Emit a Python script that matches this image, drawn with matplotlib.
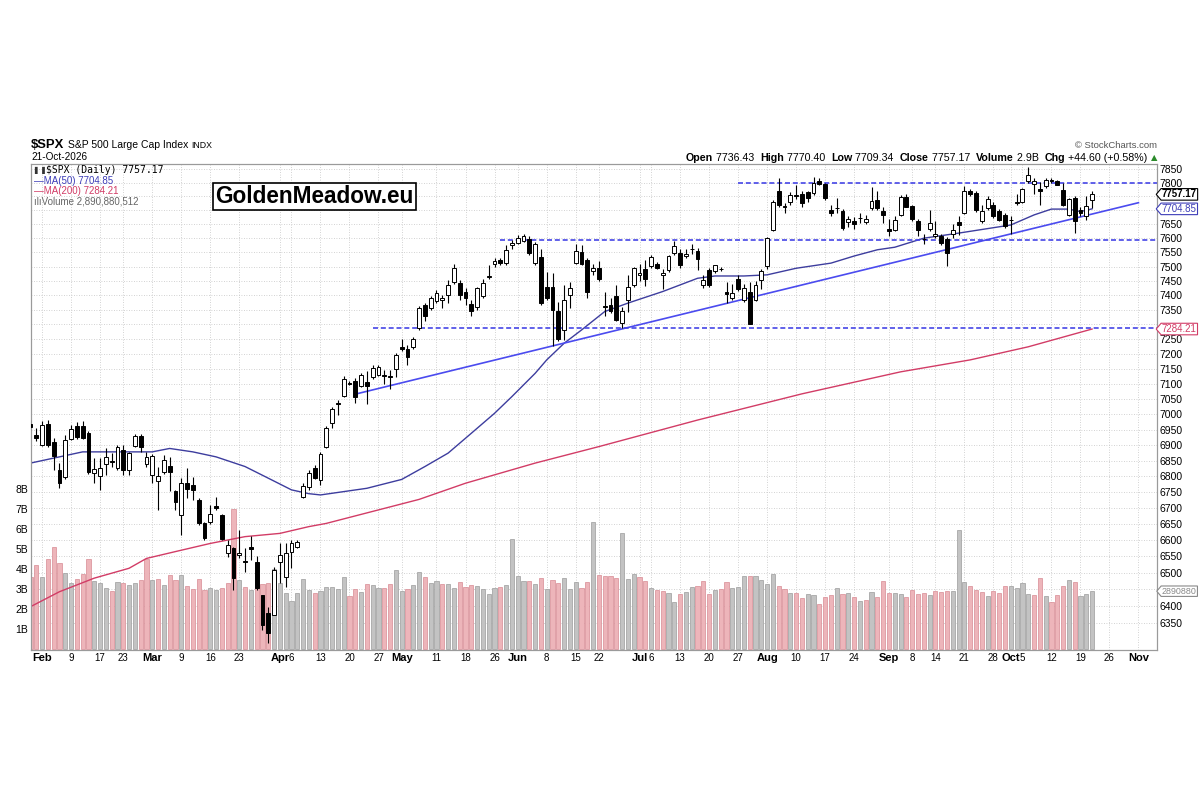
import matplotlib
matplotlib.use("Agg")
import matplotlib.pyplot as plt
import matplotlib.ticker as mticker
import matplotlib.transforms as mtransforms
from matplotlib.path import Path
import numpy as np
import pandas as pd

plt.rcParams["font.family"] = ["Liberation Sans", "DejaVu Sans"]

# ------------------------------------------------------------
# Daily data (first candle = 29-Jan-2026)
# ------------------------------------------------------------
first_day = "2026-01-29"
holidays = ["2026-02-16", "2026-04-03", "2026-05-25", "2026-06-19", "2026-07-03", "2026-09-07"]

opens = [6968, 6932, 6900, 6968, 6910, 6820, 6798, 6918, 6961, 6963,
         6940, 6810, 6802, 6838, 6850, 6826, 6884, 6820, 6896, 6928,
         6838, 6804, 6786, 6815, 6833, 6752, 6678, 6778, 6773, 6725,
         6653, 6655, 6707, 6679, 6561, 6575, 6555, 6536, 6578, 6534,
         6433, 6378, 6373, 6534, 6488, 6565, 6580, 6736, 6766, 6826,
         6788, 6893, 6971, 7037, 7060, 7104, 7110, 7093, 7107, 7122,
         7131, 7128, 7126, 7148, 7224, 7218, 7222, 7288, 7367, 7356,
         7380, 7384, 7401, 7447, 7442, 7413, 7370, 7360, 7396, 7462,
         7508, 7523, 7511, 7576, 7583, 7590, 7598, 7511, 7535, 7427,
         7427, 7345, 7281, 7401, 7514, 7550, 7523, 7484, 7494, 7362,
         7367, 7399, 7304, 7384, 7436, 7470, 7491, 7501, 7508, 7470,
         7488, 7547, 7547, 7537, 7560, 7555, 7436, 7488, 7484, 7490,
         7413, 7391, 7458, 7384, 7413, 7384, 7453, 7501, 7630, 7768,
         7715, 7731, 7754, 7759, 7764, 7761, 7807, 7795, 7701, 7708,
         7696, 7658, 7662, 7672, 7656, 7709, 7735, 7696, 7631, 7629,
         7684, 7749, 7716, 7660, 7598, 7633, 7608, 7609, 7597, 7616,
         7656, 7690, 7768, 7762, 7662, 7709, 7719, 7696, 7684, 7664,
         7728, 7731, 7804, 7795, 7776, 7786, 7808, 7804, 7773, 7684,
         7744, 7701, 7680, 7736.43]
highs = [6980, 6955, 6978, 6982, 6922, 6842, 6932, 6965, 6976, 6978,
         6945, 6858, 6858, 6889, 6873, 6899, 6899, 6879, 6937, 6937,
         6879, 6872, 6831, 6868, 6862, 6757, 6794, 6826, 6799, 6731,
         6655, 6710, 6734, 6681, 6601, 6580, 6632, 6575, 6613, 6550,
         6433, 6398, 6517, 6590, 6590, 6601, 6600, 6778, 6820, 6835,
         6878, 6961, 7023, 7048, 7126, 7109, 7118, 7136, 7143, 7163,
         7163, 7146, 7146, 7203, 7251, 7231, 7256, 7363, 7374, 7397,
         7418, 7400, 7453, 7508, 7453, 7425, 7384, 7430, 7458, 7505,
         7530, 7530, 7576, 7594, 7613, 7615, 7608, 7585, 7560, 7480,
         7476, 7376, 7436, 7445, 7580, 7575, 7530, 7508, 7520, 7410,
         7390, 7434, 7360, 7469, 7500, 7508, 7523, 7540, 7515, 7490,
         7540, 7590, 7560, 7560, 7580, 7565, 7470, 7495, 7500, 7498,
         7446, 7440, 7470, 7440, 7446, 7450, 7490, 7605, 7735, 7815,
         7725, 7765, 7790, 7768, 7770, 7820, 7815, 7800, 7720, 7745,
         7705, 7680, 7675, 7690, 7682, 7785, 7771, 7710, 7667, 7680,
         7755, 7760, 7720, 7668, 7615, 7701, 7660, 7615, 7605, 7650,
         7680, 7786, 7778, 7768, 7720, 7750, 7730, 7705, 7690, 7680,
         7760, 7782, 7856, 7818, 7801, 7815, 7818, 7810, 7800, 7745,
         7750, 7710, 7750, 7770.40]
lows = [6950, 6912, 6898, 6895, 6820, 6763, 6792, 6916, 6920, 6918,
        6808, 6778, 6757, 6804, 6831, 6820, 6804, 6804, 6894, 6879,
        6830, 6778, 6694, 6808, 6752, 6694, 6617, 6730, 6725, 6648,
        6601, 6650, 6694, 6601, 6549, 6448, 6544, 6503, 6539, 6448,
        6329, 6290, 6373, 6468, 6457, 6514, 6576, 6731, 6757, 6790,
        6773, 6890, 6955, 6998, 7058, 7095, 7036, 7090, 7033, 7115,
        7126, 7100, 7083, 7123, 7210, 7163, 7218, 7280, 7311, 7350,
        7375, 7355, 7374, 7440, 7384, 7367, 7328, 7350, 7390, 7455,
        7500, 7505, 7505, 7562, 7578, 7585, 7540, 7505, 7368, 7385,
        7228, 7245, 7247, 7355, 7508, 7505, 7391, 7470, 7450, 7330,
        7340, 7310, 7289, 7343, 7430, 7450, 7433, 7495, 7490, 7420,
        7480, 7540, 7496, 7530, 7545, 7487, 7425, 7430, 7478, 7485,
        7372, 7385, 7415, 7377, 7300, 7380, 7420, 7490, 7625, 7712,
        7690, 7720, 7740, 7710, 7730, 7755, 7790, 7735, 7680, 7690,
        7630, 7640, 7632, 7655, 7650, 7700, 7700, 7654, 7608, 7625,
        7680, 7710, 7660, 7608, 7580, 7625, 7600, 7575, 7502, 7600,
        7612, 7685, 7750, 7695, 7655, 7700, 7672, 7660, 7635, 7615,
        7718, 7725, 7798, 7760, 7720, 7780, 7800, 7790, 7715, 7680,
        7620, 7680, 7665, 7709.34]
closes = [6960, 6922, 6965, 6900, 6866, 6780, 6916, 6952, 6926, 6922,
          6815, 6823, 6827, 6862, 6847, 6894, 6820, 6874, 6928, 6893,
          6862, 6866, 6802, 6852, 6815, 6720, 6778, 6760, 6757, 6653,
          6606, 6681, 6699, 6603, 6585, 6483, 6562, 6533, 6572, 6453,
          6344, 6320, 6509, 6555, 6560, 6590, 6595, 6768, 6810, 6794,
          6871, 6955, 7017, 7032, 7115, 7100, 7057, 7128, 7093, 7152,
          7156, 7126, 7124, 7196, 7218, 7190, 7249, 7356, 7328, 7390,
          7409, 7390, 7436, 7494, 7401, 7390, 7345, 7425, 7442, 7467,
          7518, 7511, 7559, 7582, 7601, 7606, 7547, 7580, 7375, 7391,
          7350, 7252, 7384, 7425, 7556, 7510, 7413, 7494, 7455, 7360,
          7347, 7315, 7347, 7430, 7494, 7476, 7458, 7533, 7494, 7476,
          7537, 7572, 7506, 7545, 7562, 7526, 7453, 7436, 7506, 7491,
          7405, 7408, 7420, 7425, 7303, 7436, 7484, 7601, 7731, 7719,
          7713, 7755, 7752, 7725, 7743, 7798, 7795, 7743, 7690, 7707,
          7636, 7670, 7651, 7673, 7668, 7733, 7709, 7684, 7626, 7665,
          7749, 7713, 7667, 7629, 7596, 7654, 7615, 7583, 7547, 7628,
          7648, 7768, 7759, 7701, 7698, 7740, 7680, 7665, 7644, 7666,
          7725, 7776, 7828, 7804, 7768, 7810, 7807, 7792, 7719, 7740,
          7660, 7690, 7716, 7757.17]
volume_b = [3.6, 4.2, 3.6, 4.5, 5.1, 4.3, 3.8, 3.3, 3.5, 3.75,
            4.5, 3.4, 3.3, 3.05, 2.9, 3.35, 3.3, 3.2, 3.3, 3.45,
            4.5, 3.45, 3.5, 3.2, 3.7, 3.45, 3.7, 3.15, 3.0, 3.5,
            2.95, 3.05, 2.95, 3.05, 3.3, 7.0, 3.45, 3.1, 2.95, 3.05,
            3.25, 3.3, 4.0, 3.3, 2.8, 2.4, 2.8, 3.5, 2.95, 2.8,
            2.9, 3.08, 3.08, 2.98, 3.6, 2.65, 2.98, 2.83, 3.25, 3.2,
            3.03, 3.07, 3.25, 3.95, 2.92, 2.98, 3.2, 3.83, 3.6, 3.32,
            3.4, 3.25, 3.25, 3.03, 3.35, 3.12, 3.2, 3.17, 2.98, 2.73,
            3.07, 3.12, 3.2, 5.48, 3.65, 3.4, 3.4, 3.25, 3.57, 2.98,
            3.45, 3.3, 3.57, 2.98, 3.35, 3.03, 3.35, 6.33, 3.7, 3.65,
            3.65, 3.57, 5.78, 3.5, 3.73, 3.6, 3.4, 3.03, 2.97, 2.92,
            2.78, 2.33, 2.73, 2.83, 3.12, 3.17, 3.4, 2.73, 2.93, 3.0,
            3.37, 3.03, 3.12, 3.65, 3.65, 3.65, 3.45, 3.23, 3.75, 3.17,
            2.98, 2.78, 2.78, 2.53, 2.73, 2.7, 2.23, 2.58, 2.7, 3.03,
            2.73, 2.78, 2.62, 2.4, 2.45, 2.87, 2.6, 3.4, 2.78, 2.78,
            2.73, 2.6, 2.97, 2.73, 2.78, 2.7, 2.92, 2.87, 2.92, 2.92,
            5.95, 3.33, 3.17, 2.97, 2.87, 2.63, 2.92, 2.82, 3.17, 3.15,
            3.07, 3.28, 2.73, 2.68, 3.55, 2.63, 2.33, 2.7, 3.17, 3.43,
            3.35, 2.63, 2.73, 2.89]

# moving averages, read at trading-day offsets from 2-Feb
ma50_day = [-2, 7, 12, 19, 22, 26, 30, 35, 39, 43, 46, 48, 56, 62, 66, 70, 74, 78, 81, 85, 87, 90,
            93, 97, 101, 107, 113, 116, 121, 125, 130, 136, 140, 144, 147, 152, 158, 167, 171, 174,
            177, 179, 181]
ma50_val = [6842, 6878, 6878, 6878, 6889, 6878, 6862, 6831, 6794, 6757, 6745, 6741, 6762, 6790, 6831,
            6874, 6938, 7003, 7058, 7135, 7180, 7236, 7281, 7344, 7373, 7413, 7459, 7467, 7467, 7471,
            7494, 7512, 7537, 7559, 7568, 7600, 7618, 7647, 7683, 7704, 7704, 7695, 7704.85]
ma200_day = [-2, 3, 9, 15, 18, 23, 29, 35, 41, 46, 49, 65, 73, 85, 96, 113, 131, 148, 160, 170, 181]
ma200_val = [6398, 6443, 6484, 6514, 6544, 6565, 6590, 6611, 6621, 6642, 6652, 6727, 6778, 6842, 6895,
             6981, 7067, 7140, 7180, 7224, 7284.21]

# drawn annotations: rising trend line and horizontal levels
trend_day = [54, 189]
trend_val = [7066, 7727]
level_start = [120, 79, 57]
level_val = [7800, 7595, 7287]

tick_dates = ["2026-02-02", "2026-02-09", "2026-02-17", "2026-02-23", "2026-03-02", "2026-03-09",
              "2026-03-16", "2026-03-23", "2026-04-01", "2026-04-06", "2026-04-13", "2026-04-20",
              "2026-04-27", "2026-05-01", "2026-05-11", "2026-05-18", "2026-05-26", "2026-06-01",
              "2026-06-08", "2026-06-15", "2026-06-22", "2026-07-01", "2026-07-06", "2026-07-13",
              "2026-07-20", "2026-07-27", "2026-08-03", "2026-08-10", "2026-08-17", "2026-08-24",
              "2026-09-01", "2026-09-08", "2026-09-14", "2026-09-21", "2026-09-28", "2026-10-01",
              "2026-10-05", "2026-10-12", "2026-10-19", "2026-10-26", "2026-11-02"]
price_ticks = list(range(6350, 7851, 50))
hidden_price_labels = [7750, 7700, 7300, 6450]   # sit under the value tags
vol_ticks = [1, 2, 3, 4, 5, 6, 7, 8]

# ------------------------------------------------------------
# calendar / x positions
# ------------------------------------------------------------
cal = pd.bdate_range(first_day, "2026-11-06")
cal = cal[~cal.isin(pd.to_datetime(holidays))]
origin = cal.get_loc(pd.Timestamp("2026-02-02"))
x = np.arange(len(closes)) - origin

o, h, l, c = (np.array(a, dtype=float) for a in (opens, highs, lows, closes))
vol = np.array(volume_b)

W, H = 1200, 800
def px(xp, yp):
    return xp / W, 1 - yp / H

fig = plt.figure(figsize=(12, 8), dpi=100)
fig.patch.set_facecolor("white")
left, right, top, bottom = 31, 1157, 164, 650
axv = fig.add_axes([left / W, 1 - bottom / H, (right - left) / W, (bottom - top) / H])
ax = axv.twinx()

XMIN, XMAX = -1.9, 192.2
ax.set_xlim(XMIN, XMAX)
ax.set_yscale("log")
ax.set_ylim(6270, 7868)
axv.set_ylim(-0.05, 24.25)

# grid (behind everything)
tick_ts = pd.to_datetime(tick_dates)
tick_x = [cal.get_loc(t) - origin for t in tick_ts]
month_first = [t == cal[(cal.month == t.month)][0] for t in tick_ts]
tick_text = [t.strftime("%b") if m else str(t.day) for t, m in zip(tick_ts, month_first)]

grid_kw = dict(color="#c4c4c4", lw=0.6, linestyle=(0, (1, 2)), zorder=0.5)
axv.vlines(tick_x, 0, 1, transform=axv.get_xaxis_transform(), **grid_kw)
axv.hlines(price_ticks, 0, 1,
           transform=mtransforms.blended_transform_factory(axv.transAxes, ax.transData), **grid_kw)

# volume, coloured against the previous close
vol_up = np.r_[False, c[1:] >= c[:-1]]
axv.bar(x, vol, width=0.72, color=np.where(vol_up, "#c3c3c3", "#edb5ba"),
        edgecolor=np.where(vol_up, "#9c9c9c", "#d88b94"), lw=0.5, zorder=1)

# candles
lo_b, hi_b = np.minimum(o, c), np.maximum(o, c)
ax.vlines(x, l, h, color="black", lw=0.8, zorder=3)
ax.bar(x, hi_b - lo_b, bottom=lo_b, width=0.66, color=np.where(c >= o, "white", "black"),
       edgecolor="black", lw=0.7, zorder=4)

# moving averages, trend line, levels
ax.plot(ma50_day, ma50_val, color="#3d3d9e", lw=1.0, zorder=2)
ax.plot(ma200_day, ma200_val, color="#d23c66", lw=1.0, zorder=2)
ax.plot(trend_day, trend_val, color="#4b4bef", lw=1.2, zorder=2)
for s, v in zip(level_start, level_val):
    ax.plot([s, XMAX + 5], [v, v], color="#4545e6", lw=1.2, linestyle=(0, (3, 1.7)), zorder=2)

# axes styling
for a in (ax, axv):
    for sp in a.spines.values():
        sp.set_color("#9a9a9a")
        sp.set_linewidth(0.8)

ax.yaxis.set_major_locator(mticker.FixedLocator(price_ticks))
ax.yaxis.set_major_formatter(mticker.FixedFormatter(
    ["" if p in hidden_price_labels else str(p) for p in price_ticks]))
ax.yaxis.set_minor_locator(mticker.NullLocator())
ax.tick_params(axis="y", length=0, pad=2, labelsize=7.5)

axv.set_yticks(vol_ticks, labels=[f"{v}B" for v in vol_ticks])
axv.tick_params(axis="y", length=0, pad=2, labelsize=7.5)
axv.set_xticks(tick_x, labels=tick_text)
axv.tick_params(axis="x", length=0, pad=2, labelsize=7)
for lab, m in zip(axv.get_xticklabels(), month_first):
    if m:
        lab.set_fontweight("bold")
        lab.set_fontsize(8)


# value tags on the right edge
def tag_box(x0, y0, width, height, mutation_size):
    pad = 0.08 * mutation_size
    x0, y0 = x0 - pad, y0 - pad
    width, height = width + 2 * pad, height + 2 * pad
    tip = 0.42 * height
    return Path([(x0 - tip, y0 + height / 2), (x0, y0 + height), (x0 + width, y0 + height),
                 (x0 + width, y0), (x0, y0), (x0 - tip, y0 + height / 2)], closed=True)


price_tr = ax.get_yaxis_transform()
vol_tr = mtransforms.blended_transform_factory(ax.transAxes, axv.transData)
tags = [(closes[-1], f"{closes[-1]:.2f}", "black", "bold", price_tr, 7),
        (ma50_val[-1], f"{ma50_val[-1]:.2f}", "#3d3db8", "normal", price_tr, 7),
        (ma200_val[-1], f"{ma200_val[-1]:.2f}", "#d23c66", "normal", price_tr, 7),
        (volume_b[-1], "2890880", "#888888", "normal", vol_tr, 6.4)]
for val, txt, col, wt, tr, fs in tags:
    ax.annotate(txt, xy=(1.0, val), xycoords=tr, xytext=(3.5, 0), textcoords="offset points",
                ha="left", va="center", fontsize=fs, color=col, fontweight=wt, zorder=10,
                bbox=dict(boxstyle=tag_box, fc="white", ec=col, lw=0.8))

# watermark box
fig.text(*px(314.5, 196.5), "GoldenMeadow.eu", ha="center", va="center", fontsize=16.3,
         fontweight="bold", color="black",
         bbox=dict(boxstyle="square,pad=0.1", fc="white", ec="black", lw=1.2))

# in-chart legend
fig.text(*px(34, 170), "\u258c\u2590", fontsize=5, va="center", family="DejaVu Sans", color="#333333")
fig.text(*px(46, 170), "$SPX (Daily) 7757.17", fontsize=7, va="center", family="DejaVu Sans Mono")
fig.text(*px(34, 180.5), "\u2014MA(50) 7704.85", fontsize=7, va="center", color="#3d3db8")
fig.text(*px(34, 191), "\u2014MA(200) 7284.21", fontsize=7, va="center", color="#d23c66")
fig.text(*px(34, 201.5), "\u0131l\u0131Volume 2,890,880,512", fontsize=7, va="center", color="#666666")

# header
fig.text(*px(31, 145.5), "$SPX", fontsize=9.4, fontweight="bold", va="center")
fig.text(*px(68, 145.5), "S&P 500 Large Cap Index", fontsize=7.5, va="center")
fig.text(*px(191, 146), "INDX", fontsize=6.3, va="center")
fig.text(*px(31, 157.5), "21-Oct-2026", fontsize=7.2, va="center")
fig.text(*px(1157, 145.5), "\u00a9 StockCharts.com", fontsize=6.8, va="center", ha="right", color="#555555")

segments = [("Open", True), (" 7736.43  ", False), ("High", True), (" 7770.40  ", False),
            ("Low", True), (" 7709.34  ", False), ("Close", True), (" 7757.17  ", False),
            ("Volume", True), (" 2.9B  ", False), ("Chg", True), (" +44.60 (+0.58%) ", False)]
renderer = fig.canvas.get_renderer()
xr = 1157
t = fig.text(*px(xr, 157.7), "\u25b2", fontsize=6, va="center", ha="right", color="#2a8a2a",
             family="DejaVu Sans")
xr -= t.get_window_extent(renderer).width
for txt, bold in reversed(segments):
    t = fig.text(*px(xr, 157.7), txt, fontsize=7.7, va="center", ha="right",
                 fontweight="bold" if bold else "normal")
    xr -= t.get_window_extent(renderer).width

fig.savefig("out.png", dpi=100)
